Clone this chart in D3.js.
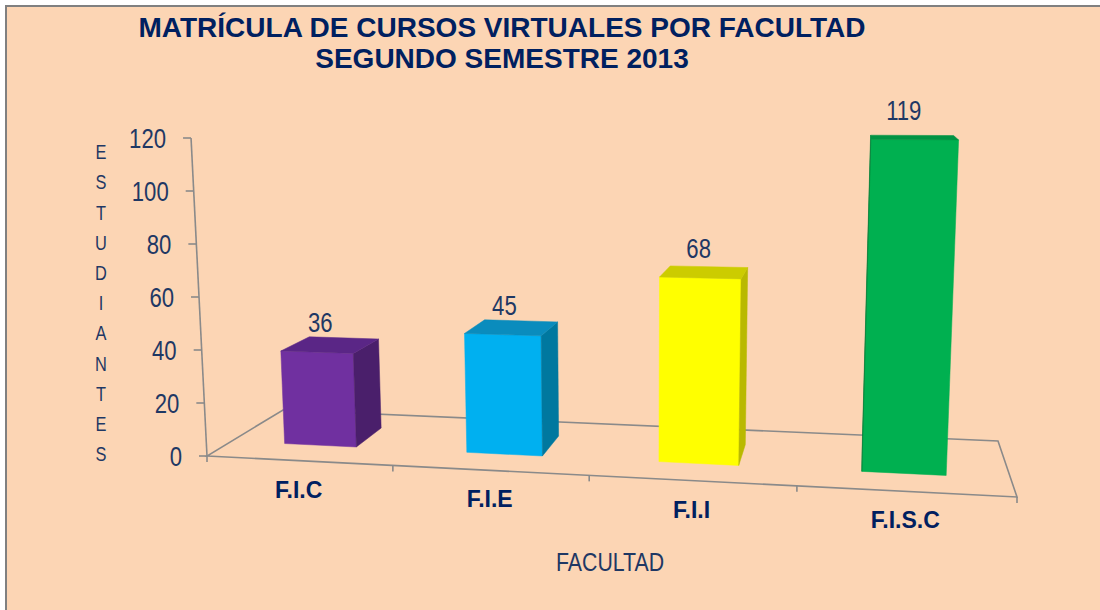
<html>
<head>
  <title>Matrícula de cursos virtuales por facultad</title>
  <meta charset="utf-8" />
  <style type="text/css">
    body { margin: 0; background: white; }
    svg { display: block; }
    text { font-family: "Liberation Sans", Arial, sans-serif; }
  </style>
</head>
<script src="https://d3js.org/d3.v7.min.js" type="text/JavaScript"></script>
<body>
  <div id="viz">
    <svg width="1100" height="610"></svg>
  </div>
<script>
  var categories = ["F.I.C", "F.I.E", "F.I.I", "F.I.S.C"]
  var values = [36, 45, 68, 119]
  var yTicks = [0, 20, 40, 60, 80, 100, 120]
  var frontColors = ["#7030a0", "#00b0f0", "#ffff00", "#00b050"]
  var sideColors = ["#4a1f6b", "#00789f", "#b9b900", "#007a36"]
  var topColors = ["#5a2686", "#0a8cbd", "#cccc00", "#009343"]
  var titleLines = ["MATRÍCULA DE CURSOS VIRTUALES POR FACULTAD", "SEGUNDO SEMESTRE 2013"]
  var yTitle = "ESTUDIANTES"
  var xTitle = "FACULTAD"

  var svg = d3.select("svg")

  // floor of the 3d box: front-left, front-right, back-right, back-left
  var FL = [207, 456], FR = [1017, 497], BR = [998, 441], BL = [283, 410]
  var VP = [633, 8943] // vertical vanishing point (far below)
  var NARROW = 0.82 // squeeze for the thin axis font

  // homography unit square -> floor quad
  var dx1 = FR[0] - BR[0], dx2 = BL[0] - BR[0], dx3 = FL[0] - FR[0] + BR[0] - BL[0]
  var dy1 = FR[1] - BR[1], dy2 = BL[1] - BR[1], dy3 = FL[1] - FR[1] + BR[1] - BL[1]
  var den = dx1 * dy2 - dx2 * dy1
  var g = (dx3 * dy2 - dx2 * dy3) / den
  var h = (dx1 * dy3 - dx3 * dy1) / den
  var a = FR[0] - FL[0] + g * FR[0], b = BL[0] - FL[0] + h * BL[0], c = FL[0]
  var d = FR[1] - FL[1] + g * FR[1], e = BL[1] - FL[1] + h * BL[1], f = FL[1]

  var x = d3.scaleBand().domain(categories).range([0, 1]).paddingInner(0.6).paddingOuter(0.3)
  var y = d3.scaleLinear().domain([0, 120]).range([0, 318.4])

  function project(u, v, val) {
    var w = g * u + h * v + 1
    var px = (a * u + b * v + c) / w
    var py = (d * u + e * v + f) / w
    var vx = px - VP[0], vy = py - VP[1]
    var len = Math.sqrt(vx * vx + vy * vy)
    var s = y(val) / w
    return [px + vx / len * s, py + vy / len * s]
  }

  function narrowAt(px, py) {
    return "translate(" + px + "," + py + ") scale(" + NARROW + ",1)"
  }

  // background and border
  svg.append("rect")
    .attr("x", 6).attr("y", 6).attr("width", 1200).attr("height", 700)
    .style("fill", "#fcd5b4").style("stroke", "#808080").style("stroke-width", 2)

  // title
  svg.selectAll("text.title")
    .data(titleLines)
    .enter()
    .append("text")
    .attr("class", "title")
    .attr("x", 502)
    .attr("y", function (t, i) { return 37 + i * 31 })
    .attr("text-anchor", "middle")
    .style("font-size", "28px")
    .style("font-weight", "bold")
    .style("fill", "#002060")
    .text(function (t) { return t })

  var axisStyle = function (sel) {
    sel.style("stroke", "#8a8a8a").style("stroke-width", 1.6).style("fill", "none")
  }
  var line = d3.line()

  // floor outline
  svg.append("path")
    .attr("d", line([project(0, 0, 0), project(1, 0, 0), project(1, 1, 0), project(0, 1, 0)]) + "Z")
    .call(axisStyle)

  // ticks on front edge
  svg.selectAll("path.xtick")
    .data([0, 0.25, 0.5, 0.75, 1])
    .enter()
    .append("path")
    .attr("class", "xtick")
    .attr("d", function (u) {
      var p = project(u, 0, 0)
      return line([p, [p[0], p[1] + 6]])
    })
    .call(axisStyle)

  // value axis
  svg.append("path")
    .attr("d", line([project(0, 0, 0), project(0, 0, 120)]))
    .call(axisStyle)

  svg.selectAll("path.ytick")
    .data(yTicks)
    .enter()
    .append("path")
    .attr("class", "ytick")
    .attr("d", function (t) {
      var p = project(0, 0, t)
      return line([[p[0] - 8, p[1]], p])
    })
    .call(axisStyle)

  svg.selectAll("text.ytick")
    .data(yTicks)
    .enter()
    .append("text")
    .attr("class", "ytick")
    .attr("transform", function (t) {
      var p = project(0, 0, t)
      return narrowAt(p[0] - 25, p[1])
    })
    .attr("dy", "0.36em")
    .attr("text-anchor", "end")
    .style("font-size", "27px")
    .style("fill", "#1f3864")
    .text(function (t) { return t })

  // bars
  var v0 = 0.3, v1 = 0.7
  var bars = svg.selectAll("g.bar")
    .data(categories)
    .enter()
    .append("g")
    .attr("class", "bar")

  function area(pts) {
    var s = 0
    for (var i = 0; i < pts.length; i++) {
      var p = pts[i], q = pts[(i + 1) % pts.length]
      s += p[0] * q[1] - q[0] * p[1]
    }
    return s
  }

  bars.each(function (cat, i) {
    var u0 = x(cat), u1 = x(cat) + x.bandwidth(), H = values[i]
    var faces = [
      { pts: [[u0, v0, 0], [u1, v0, 0], [u1, v0, H], [u0, v0, H]], fill: frontColors[i] },
      { pts: [[u1, v1, 0], [u0, v1, 0], [u0, v1, H], [u1, v1, H]], fill: sideColors[i] },
      { pts: [[u0, v1, 0], [u0, v0, 0], [u0, v0, H], [u0, v1, H]], fill: sideColors[i] },
      { pts: [[u1, v0, 0], [u1, v1, 0], [u1, v1, H], [u1, v0, H]], fill: sideColors[i] },
      { pts: [[u0, v0, H], [u1, v0, H], [u1, v1, H], [u0, v1, H]], fill: topColors[i] }
    ]
    faces.forEach(function (fc) {
      fc.scr = fc.pts.map(function (p) { return project(p[0], p[1], p[2]) })
    })
    var sign = Math.sign(area(faces[0].scr))
    d3.select(this).selectAll("path")
      .data(faces.filter(function (fc) { return Math.sign(area(fc.scr)) === sign }))
      .enter()
      .append("path")
      .attr("d", function (fc) { return line(fc.scr) + "Z" })
      .style("fill", function (fc) { return fc.fill })
      .style("stroke", function (fc) { return fc.fill })
      .style("stroke-width", 0.5)
  })

  // value labels
  svg.selectAll("text.value")
    .data(categories)
    .enter()
    .append("text")
    .attr("class", "value")
    .attr("transform", function (cat, i) {
      var um = x(cat) + x.bandwidth() / 2
      return narrowAt(project(um, v0, 0)[0], project(um, v0, values[i])[1] - 20)
    })
    .attr("text-anchor", "middle")
    .style("font-size", "27px")
    .style("fill", "#1f3864")
    .text(function (cat, i) { return values[i] })

  // category labels
  svg.selectAll("text.cat")
    .data(categories)
    .enter()
    .append("text")
    .attr("class", "cat")
    .attr("x", function (cat) { return project(x(cat) + x.bandwidth() / 2, 0, 0)[0] })
    .attr("y", function (cat) { return project(x(cat) + x.bandwidth() / 2, 0, 0)[1] + 37 })
    .attr("text-anchor", "middle")
    .style("font-size", "23px")
    .style("font-weight", "bold")
    .style("fill", "#002060")
    .text(function (cat) { return cat })

  // axis titles
  svg.append("text")
    .attr("transform", narrowAt(610, 571))
    .attr("text-anchor", "middle")
    .style("font-size", "26px")
    .style("fill", "#1f3864")
    .text(xTitle)

  svg.selectAll("text.ytitle")
    .data(yTitle.split(""))
    .enter()
    .append("text")
    .attr("class", "ytitle")
    .attr("transform", function (ch, i) { return narrowAt(101, 152 + i * 30.2) })
    .attr("dy", "0.36em")
    .attr("text-anchor", "middle")
    .style("font-size", "20px")
    .style("fill", "#1f3864")
    .text(function (ch) { return ch })
</script>
</body>
</html>
